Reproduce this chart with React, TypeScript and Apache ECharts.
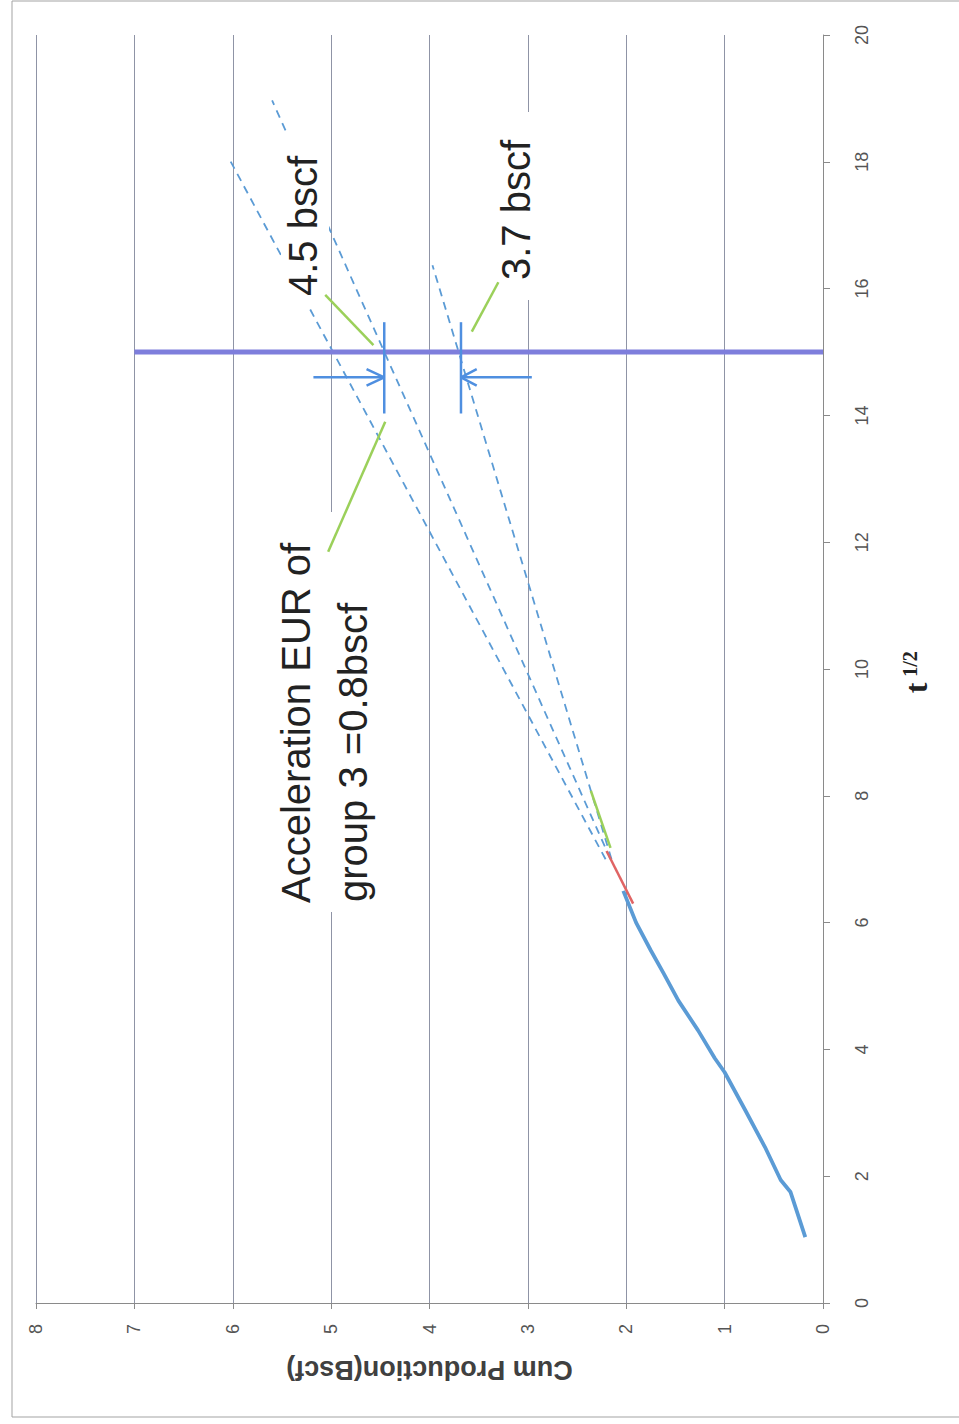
import React, { useEffect, useRef } from "react";
import * as echarts from "echarts";

// Measured production (x: Cum Production Bscf, y: t^1/2)
const prodT = [1.04, 1.75, 1.94, 2.46, 3.04, 3.64, 3.86, 4.3, 4.77, 5.2, 5.56, 6.0, 6.5];
const prodCum = [0.18, 0.33, 0.43, 0.59, 0.79, 1.0, 1.1, 1.27, 1.47, 1.62, 1.75, 1.9, 2.03];

// Fitted segments
const redT = [6.3, 7.13];
const redCum = [1.93, 2.2];
const greenT = [7.18, 8.08];
const greenCum = [2.16, 2.36];

// Extrapolations (dashed)
const dash1T = [7.0, 18.03];
const dash1Cum = [2.21, 6.03];
const dash2T = [7.0, 18.97];
const dash2Cum = [2.16, 5.6];
const dash3T = [7.0, 16.37];
const dash3Cum = [2.15, 3.97];

// Vertical marker at t^1/2 = 15
const markT = [15, 15];
const markCum = [0, 7];

// EUR readings (arrows)
const eurHigh = 4.46;
const eurLow = 3.68;
const arrowT = 14.6;
const barT = [14.03, 15.47];
const arrowLeftCum = [5.18, eurHigh];
const arrowRightCum = [2.96, eurLow];

// Leader lines from the labels
const lead1T = [15.9, 15.11];
const lead1Cum = [5.06, 4.57];
const lead2T = [13.9, 11.85];
const lead2Cum = [4.45, 5.03];
const lead3T = [16.1, 15.32];
const lead3Cum = [3.3, 3.57];

const cumTicks = { min: 0, max: 8, interval: 1 };
const tTicks = { min: 0, max: 20, interval: 2 };

const pairs = (cum: number[], t: number[]) => cum.map((c, i) => [c, t[i]]);

const BLUE = "#5b9bd5";
const GREEN = "#9bd05a";

function lineSeries(data: number[][], color: string, width: number, type: any = "solid", z = 3) {
  return {
    type: "line",
    data,
    showSymbol: false,
    symbol: "none",
    z,
    silent: true,
    lineStyle: { color, width, type, cap: "butt" },
  };
}

export default function App() {
  const ref = useRef<HTMLDivElement>(null);
  useEffect(() => {
    if (!ref.current) return;
    const chart = echarts.init(ref.current, undefined, { renderer: "svg" });
    const rot = Math.PI / 2;
    const textFont = "Liberation Sans, Arial, sans-serif";
    const option: any = {
      animation: false,
      backgroundColor: "#ffffff",
      grid: { left: 36, right: 136, top: 35, bottom: 121, containLabel: false },
      xAxis: {
        type: "value",
        ...cumTicks,
        inverse: true,
        position: "bottom",
        name: "Cum Production(Bscf)",
        nameLocation: "middle",
        nameRotate: 180,
        nameGap: 53,
        nameTextStyle: { fontFamily: textFont, fontSize: 27, fontWeight: "bold", color: "#404040" },
        axisLine: { show: true, onZero: false, lineStyle: { color: "#8a8a8a", width: 1 } },
        axisTick: { show: true, inside: false, length: 6, lineStyle: { color: "#8a8a8a" } },
        axisLabel: { rotate: 90, margin: 21, fontSize: 18, color: "#555555", fontFamily: textFont },
        splitLine: { show: true, lineStyle: { color: "#8f94a6", width: 1 } },
      },
      yAxis: {
        type: "value",
        ...tTicks,
        position: "right",
        axisLine: { show: true, onZero: false, lineStyle: { color: "#8a8a8a", width: 1 } },
        axisTick: { show: true, inside: false, length: 7, lineStyle: { color: "#8a8a8a" } },
        axisLabel: { rotate: 90, margin: 30, fontSize: 18, color: "#555555", fontFamily: textFont },
        splitLine: { show: false },
      },
      series: [
        lineSeries(pairs(dash1Cum, dash1T), BLUE, 1.8, [8, 6], 2),
        lineSeries(pairs(dash2Cum, dash2T), BLUE, 1.8, [8, 6], 2),
        lineSeries(pairs(dash3Cum, dash3T), BLUE, 1.8, [8, 6], 2),
        lineSeries(pairs(prodCum, prodT), BLUE, 3.8, "solid", 3),
        lineSeries(pairs(greenCum, greenT), GREEN, 2.5, "solid", 4),
        lineSeries(pairs(redCum, redT), "#e06464", 2.5, "solid", 4),
        lineSeries(pairs(markCum, markT), "#7e7edc", 5, "solid", 5),
        lineSeries(pairs(arrowLeftCum, [arrowT, arrowT]), "#4f8fe0", 2.5, "solid", 6),
        lineSeries(pairs([4.64, eurHigh, 4.64], [arrowT + 0.13, arrowT, arrowT - 0.13]), "#4f8fe0", 2.5, "solid", 6),
        lineSeries(pairs([eurHigh, eurHigh], barT), "#4f8fe0", 2.5, "solid", 6),
        lineSeries(pairs(arrowRightCum, [arrowT, arrowT]), "#4f8fe0", 2.5, "solid", 6),
        lineSeries(pairs([3.52, eurLow, 3.52], [arrowT + 0.13, arrowT, arrowT - 0.13]), "#4f8fe0", 2.5, "solid", 6),
        lineSeries(pairs([eurLow, eurLow], barT), "#4f8fe0", 2.5, "solid", 6),
        lineSeries(pairs(lead1Cum, lead1T), GREEN, 2.5, "solid", 60),
        lineSeries(pairs(lead2Cum, lead2T), GREEN, 2.5, "solid", 60),
        lineSeries(pairs(lead3Cum, lead3T), GREEN, 2.5, "solid", 60),
      ],
      graphic: [
        {
          type: "rect",
          z: 0,
          silent: true,
          shape: { x: 12, y: 1, width: 960, height: 1416 },
          style: { fill: "none", stroke: "#a3a3a3", lineWidth: 1 },
        },
        { type: "rect", z: 50, silent: true, shape: { x: 281, y: 135, width: 48, height: 170 }, style: { fill: "#ffffff" } },
        { type: "rect", z: 50, silent: true, shape: { x: 493, y: 112, width: 42, height: 188 }, style: { fill: "#ffffff" } },
        { type: "rect", z: 50, silent: true, shape: { x: 274, y: 512, width: 104, height: 400 }, style: { fill: "#ffffff" } },
        {
          type: "text", z: 51, silent: true, x: 303, y: 296, rotation: rot,
          style: { text: "4.5 bscf", fontFamily: textFont, fontSize: 40, fill: "#222222", textAlign: "left", textVerticalAlign: "middle" },
        },
        {
          type: "text", z: 51, silent: true, x: 516, y: 280, rotation: rot,
          style: { text: "3.7 bscf", fontFamily: textFont, fontSize: 40, fill: "#222222", textAlign: "left", textVerticalAlign: "middle" },
        },
        {
          type: "text", z: 51, silent: true, x: 296, y: 903, rotation: rot,
          style: { text: "Acceleration EUR of", fontFamily: textFont, fontSize: 40, fill: "#222222", textAlign: "left", textVerticalAlign: "middle" },
        },
        {
          type: "text", z: 51, silent: true, x: 353, y: 902, rotation: rot,
          style: { text: "group 3 =0.8bscf", fontFamily: textFont, fontSize: 40, fill: "#222222", textAlign: "left", textVerticalAlign: "middle" },
        },
        {
          type: "text", z: 51, silent: true, x: 916, y: 688, rotation: rot,
          style: { text: "t", fontFamily: "Liberation Serif, serif", fontWeight: "bold", fontSize: 32, fill: "#222222", textAlign: "center", textVerticalAlign: "middle" },
        },
        {
          type: "text", z: 51, silent: true, x: 910, y: 664, rotation: rot,
          style: { text: "1/2", fontFamily: "Liberation Serif, serif", fontWeight: "bold", fontSize: 20, fill: "#222222", textAlign: "center", textVerticalAlign: "middle" },
        },
      ],
    };
    chart.setOption(option);
    return () => chart.dispose();
  }, []);
  return (
    <div
      ref={ref}
      style={{ position: "absolute", left: 0, top: 0, width: 959, height: 1424 }}
    />
  );
}
